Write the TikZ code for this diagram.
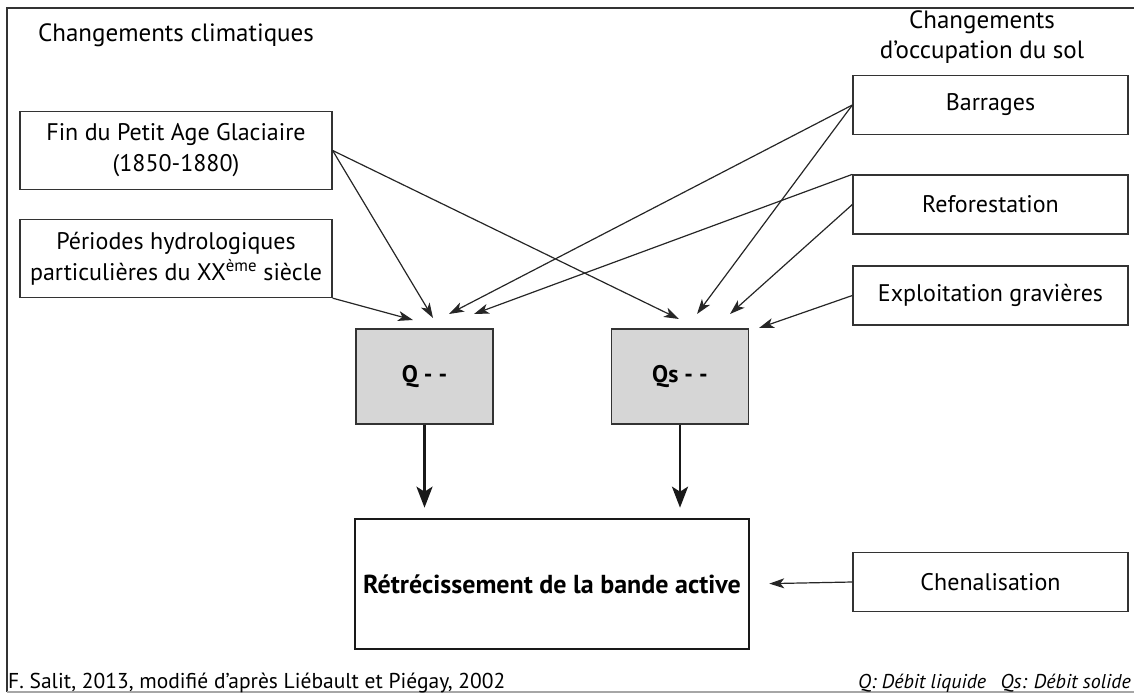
\documentclass[tikz,border=0pt]{standalone}
\usepackage{fontspec}
\setmainfont{PT Sans}
\usetikzlibrary{arrows.meta}
\definecolor{debitgris}{gray}{0.84}

\begin{document}
\begin{tikzpicture}[
    x=1pt, y=-1pt,
    cause/.style={draw=black!80, line width=1.3pt, minimum width=312, minimum height=78, align=center, inner sep=0pt, font=\fontsize{24}{31}\selectfont},
    usage/.style={draw=black!80, line width=1.3pt, minimum width=275, minimum height=59, align=center, inner sep=0pt, font=\fontsize{24}{31}\selectfont},
    debit/.style={draw=black!80, line width=1.3pt, fill=debitgris, minimum width=137, minimum height=95, inner sep=0pt, font=\bfseries\fontsize{24}{28}\selectfont},
    effet/.style={draw=black!90, line width=2.6pt, minimum width=394, minimum height=130, inner sep=0pt, font=\bfseries\fontsize{26}{30}\selectfont},
    titre/.style={align=center, font=\fontsize{25}{30}\selectfont},
    thin_arrow/.style={-{Stealth[length=15pt, width=10pt, inset=4pt]}, line width=1.2pt, black!85},
    thick_arrow/.style={-{Stealth[length=21pt, width=16pt, inset=5pt]}, line width=2.8pt, black!90}
]
\useasboundingbox (0,0) rectangle (1134,693);

% 1. cadre
\draw[line width=1.6pt, black!80] (7,692) -- (7,8) -- (1140,8);
\draw[line width=1.4pt, black!35] (7,692) -- (1140,692);

% 2. titres des deux groupes
\node[titre] (clim) at (176,35) {Changements climatiques};
\node[titre] (occup) at (982,37) {Changements\\d’occupation du sol};

% 3. facteurs
\node[cause] (fin) at (176,150.5) {Fin du Petit Age Glaciaire\\(1850-1880)};
\node[cause] (periodes) at (176,258.5) {Périodes hydrologiques\\particulières du XX\textsuperscript{ème} siècle};
\node[usage] (barrages) at (990.5,105) {Barrages};
\node[usage] (reforest) at (990.5,204.5) {Reforestation};
\node[usage] (graviere) at (990.5,295.5) {Exploitation gravières};
\node[usage] (chenal) at (990.5,582) {Chenalisation};

% 4. debits et effet
\node[debit] (q) at (424.5,376.5) {Q - -};
\node[debit] (qs) at (680,376.5) {Qs - -};
\node[effet] (bande) at (552,584) {Rétrécissement de la bande active};

% 5. pointes des fleches au-dessus des boites Q et Qs
\coordinate (q1) at (413,320);
\coordinate (q2) at (433,318);
\coordinate (q3) at (449,314);
\coordinate (q4) at (474,314);
\coordinate (qs1) at (679,319);
\coordinate (qs2) at (697,314);
\coordinate (qs3) at (730,314);
\coordinate (qs4) at (759,328);

\draw[thin_arrow] (periodes.south east) -- (q1);
\draw[thin_arrow] (fin.east) -- (q2);
\draw[thin_arrow] (fin.east) -- (qs1);
\draw[thin_arrow] (barrages.west) -- (q3);
\draw[thin_arrow] (barrages.west) -- (qs2);
\draw[thin_arrow] (reforest.north west) -- (q4);
\draw[thin_arrow] (reforest.west) -- (qs3);
\draw[thin_arrow] (graviere.west) -- (qs4);

% 6. vers la bande active
\draw[thick_arrow, shorten >=10pt] (q) -- (q |- bande.north);
\draw[thick_arrow, shorten >=10pt] (qs) -- (qs |- bande.north);
\draw[thin_arrow, shorten >=19pt] (chenal.west) -- (bande.east);

% 7. sources et legende
\node[anchor=base west, inner sep=0pt, font=\fontsize{21.5}{24}\selectfont] (source) at (8,688) {F. Salit, 2013, modifié d’après Liébault et Piégay, 2002};
\node[anchor=base east, inner sep=0pt, font=\itshape\fontsize{20}{24}\selectfont] (legende) at (1131,688) {Q: Débit liquide\hspace{9pt} Qs: Débit solide};

\end{tikzpicture}
\end{document}
